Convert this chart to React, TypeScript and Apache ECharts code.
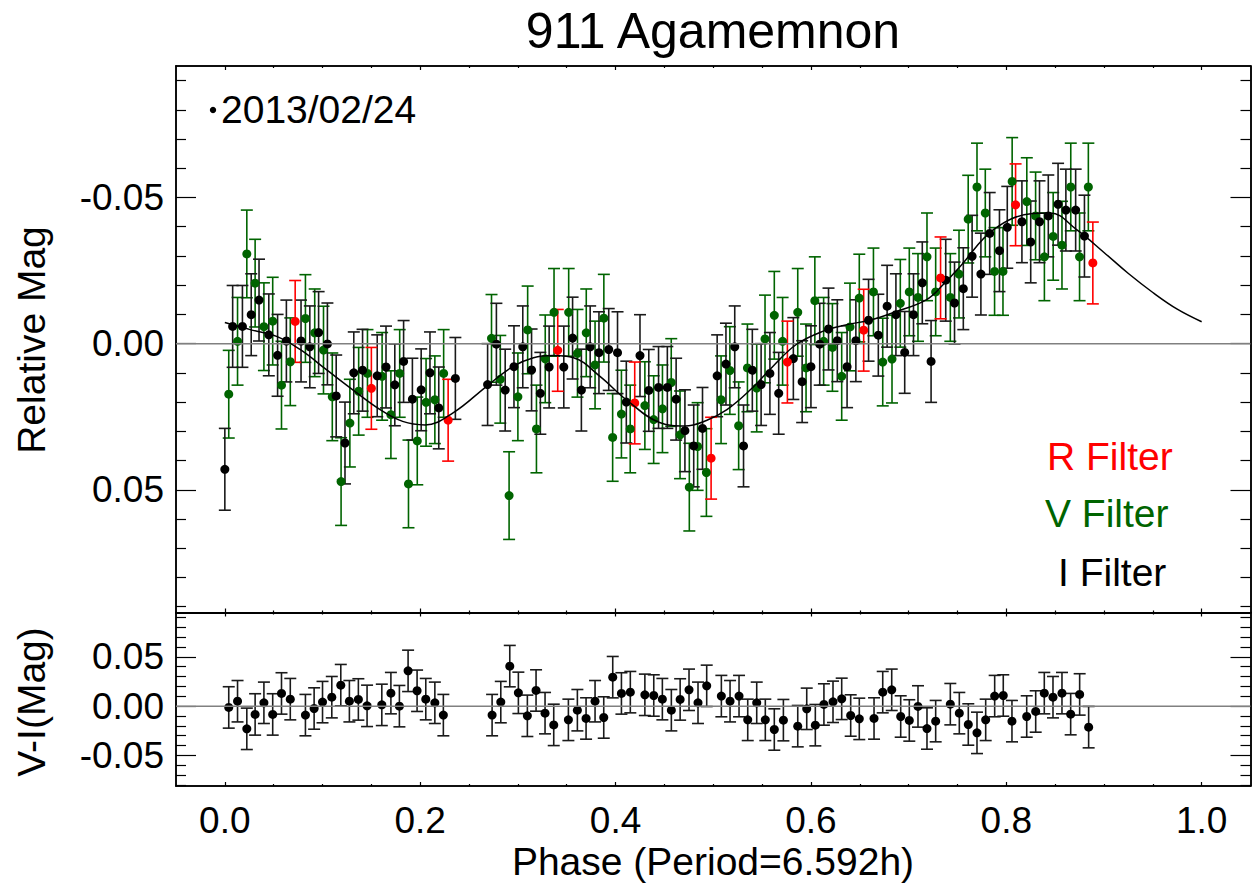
import React, { useEffect, useRef } from 'react';
import * as echarts from 'echarts';

const FONT = '"Liberation Sans", Arial, Helvetica, sans-serif';

// ---------- data ----------
const iPhase = [0.000, 0.008, 0.018, 0.027, 0.035, 0.045, 0.054, 0.063, 0.078, 0.087, 0.096, 0.105, 0.114, 0.123, 0.132, 0.141, 0.156, 0.165, 0.174, 0.183, 0.192, 0.201, 0.210, 0.219, 0.236,
  0.269, 0.278, 0.287, 0.296, 0.305, 0.314, 0.323, 0.332, 0.347, 0.356, 0.365, 0.374, 0.383, 0.393, 0.402, 0.411,
  0.425, 0.434, 0.444, 0.453, 0.462, 0.471, 0.480, 0.489, 0.504, 0.513, 0.522, 0.531, 0.540, 0.549, 0.558, 0.567,
  0.582, 0.591, 0.600, 0.609, 0.618, 0.627, 0.637, 0.646, 0.659, 0.669, 0.678, 0.687, 0.696, 0.705, 0.714, 0.723,
  0.738, 0.747, 0.756, 0.765, 0.774, 0.783, 0.793, 0.801, 0.816, 0.825, 0.834, 0.843, 0.853, 0.861, 0.871, 0.880];
const iMag = [0.0430, -0.0059, -0.0059, -0.0099, -0.0149, -0.0030, 0.0040, -0.0009, -0.0009, 0.0011, -0.0038, 0.0001, 0.0179, 0.0340, 0.0100, 0.0091, 0.0110, 0.0080, 0.0141, 0.0061, 0.0190, 0.0158, 0.0100, 0.0220, 0.0119,
  0.0140, 0.0002, 0.0159, 0.0079, 0.0011, 0.0090, 0.0170, 0.0080, 0.0080, -0.0019, 0.0159, 0.0011, 0.0031, 0.0020, 0.0031, 0.0200,
  0.0041, 0.0160, 0.0150, 0.0150, 0.0190, 0.0298, 0.0350, 0.0290, 0.0110, 0.0070, 0.0011, 0.0350, 0.0091, 0.0140, 0.0102, 0.0170,
  0.0051, 0.0130, 0.0079, 0.0002, -0.0050, -0.0010, 0.0079, -0.0010, -0.0080, -0.0029, -0.0128, -0.0099, 0.0030, -0.0099, -0.0208, 0.0061,
  -0.0217, -0.0139, -0.0188, -0.0299, -0.0238, -0.0377, -0.0318, -0.0398, -0.0417, -0.0348, -0.0417, -0.0437, -0.0477, -0.0457, -0.0457, -0.0368];

const vPhase = [0.004, 0.013, 0.0225, 0.031, 0.040, 0.049, 0.058, 0.067, 0.0825, 0.092, 0.101, 0.110, 0.119, 0.128, 0.137, 0.146, 0.161, 0.170, 0.179, 0.188, 0.197, 0.206, 0.215, 0.224,
  0.273, 0.282, 0.291, 0.300, 0.310, 0.319, 0.328, 0.337, 0.352, 0.361, 0.370, 0.379, 0.388, 0.397, 0.406, 0.415,
  0.430, 0.439, 0.448, 0.457, 0.466, 0.4755, 0.484, 0.493, 0.508, 0.517, 0.526, 0.535, 0.5445, 0.553, 0.5625, 0.571,
  0.5865, 0.595, 0.604, 0.613, 0.622, 0.6315, 0.640, 0.6495, 0.664, 0.6735, 0.683, 0.6915, 0.7007, 0.7096, 0.7188, 0.7277,
  0.7427, 0.7516, 0.761, 0.770, 0.7785, 0.788, 0.7966, 0.806, 0.821, 0.830, 0.839, 0.848, 0.857, 0.866, 0.875, 0.884];
const vMag = [0.0173, -0.0008, -0.0307, -0.0207, -0.0058, -0.0077, 0.0142, 0.0062, -0.0086, -0.0037, 0.0022, 0.0182, 0.0472, 0.0272, 0.0163, 0.0102, 0.0112, 0.0243, 0.0102, 0.0480, 0.0333, 0.0201, 0.0192, 0.0102,
  -0.0018, 0.0122, 0.0520, 0.0182, -0.0047, 0.0292, 0.0052, -0.0107, -0.0107, 0.0033, -0.0037, 0.0073, -0.0087, 0.0321, 0.0241, 0.0292,
  0.0212, 0.0260, 0.0223, 0.0133, 0.0312, 0.0491, 0.0352, 0.0441, 0.0192, 0.0092, 0.0281, 0.0083, 0.0152, -0.0016, -0.0097, -0.0008,
  -0.0107, 0.0083, -0.0147, -0.0008, 0.0013, 0.0112, -0.0057, -0.0156, -0.0177, 0.0063, 0.0053, -0.0138, -0.0177, -0.0158, -0.0297, -0.0177,
  -0.0158, -0.0238, -0.0426, -0.0536, -0.0447, -0.0247, -0.0247, -0.0555, -0.0486, -0.0437, -0.0297, -0.0367, -0.0337, -0.0536, -0.0297, -0.0536];

const rPhase = [0.072, 0.150, 0.2286, 0.3408, 0.4196, 0.4978, 0.5759, 0.654, 0.7327, 0.8095, 0.8886];
const rMag = [-0.0076, 0.0153, 0.0262, 0.0023, 0.0203, 0.0392, 0.0063, -0.0046, -0.0225, -0.0475, -0.0276];

const iErr = 0.014;
const vErr = 0.015;
const rErr = 0.014;

const fitPhase = [0.000, 0.026, 0.053, 0.077, 0.104, 0.131, 0.159, 0.182, 0.205, 0.234, 0.268, 0.295, 0.316, 0.336, 0.357, 0.384, 0.411, 0.445, 0.471, 0.493, 0.514, 0.538, 0.561, 0.585, 0.612, 0.637, 0.660, 0.684, 0.718, 0.736, 0.753, 0.787, 0.827, 0.845, 0.872, 0.900, 0.925, 0.950, 0.975, 1.000];
const fitMag = [-0.0072, -0.0048, -0.0025, 0.0020, 0.0089, 0.0158, 0.0226, 0.0266, 0.0278, 0.0236, 0.0146, 0.0078, 0.0048, 0.0041, 0.0048, 0.0112, 0.0192, 0.0270, 0.0282, 0.0263, 0.0226, 0.0158, 0.0078, 0.0003, -0.0042, -0.0065, -0.0080, -0.0106, -0.0150, -0.0204, -0.0265, -0.0390, -0.0445, -0.0447, -0.0390, -0.0312, -0.0240, -0.0175, -0.0118, -0.0075];

const viPhase = [0.004, 0.013, 0.0225, 0.031, 0.040, 0.049, 0.058, 0.067, 0.0825, 0.0914, 0.100, 0.1095, 0.1187, 0.1275, 0.1367, 0.1456, 0.1607, 0.170, 0.1787, 0.1876, 0.1968, 0.2057, 0.215, 0.2237,
  0.2736, 0.2825, 0.2917, 0.3005, 0.3097, 0.3186, 0.3278, 0.3367, 0.3517, 0.3609, 0.3698, 0.379, 0.3879, 0.3971, 0.406, 0.4151,
  0.430, 0.4391, 0.4479, 0.4571, 0.4661, 0.4752, 0.4844, 0.4933, 0.5083, 0.5172, 0.5264, 0.5353, 0.5445, 0.5533, 0.5625, 0.5718,
  0.5865, 0.5957, 0.6045, 0.6133, 0.6226, 0.6315, 0.6407, 0.6495, 0.6646, 0.6735, 0.6827, 0.6919, 0.7007, 0.7096, 0.7188, 0.7277,
  0.7427, 0.7519, 0.7611, 0.770, 0.7789, 0.7881, 0.7969, 0.8058, 0.8209, 0.8301, 0.8389, 0.8478, 0.857, 0.8659, 0.8751, 0.8843];
const viVal = [-0.0013, 0.0050, -0.0230, -0.0084, 0.0034, -0.0084, 0.0129, 0.0071, -0.0091, -0.0024, 0.0041, 0.0091, 0.0213, 0.0050, 0.0068, 0.0003, 0.0013, 0.0132, 0.0000, 0.0358, 0.0156, 0.0071, 0.0034, -0.0091,
  -0.0091, 0.0041, 0.0406, 0.0135, -0.0098, 0.0159, -0.0071, -0.0190, -0.0139, -0.0041, -0.0125, 0.0050, -0.0115, 0.0294, 0.0129, 0.0142,
  0.0115, 0.0108, 0.0071, -0.0041, 0.0068, 0.0166, 0.0034, 0.0206, 0.0102, 0.0050, 0.0102, -0.0139, 0.0034, -0.0139, -0.0237, -0.0142,
  -0.0203, -0.0027, -0.0193, 0.0017, 0.0044, 0.0074, -0.0095, -0.0129, -0.0125, 0.0142, 0.0166, -0.0105, -0.0145, -0.0003, -0.0227, -0.0152,
  0.0020, -0.0071, -0.0186, -0.0271, -0.0139, 0.0102, 0.0108, -0.0152, -0.0105, -0.0054, 0.0132, 0.0091, 0.0132, -0.0081, 0.0119, -0.0213];
const viErr = 0.021;

// ---------- ticks ----------
const xMajorTicks = [0, 0.2, 0.4, 0.6, 0.8, 1.0];
const xMinorTicks = [0.05, 0.1, 0.15, 0.25, 0.3, 0.35, 0.45, 0.5, 0.55, 0.65, 0.7, 0.75, 0.85, 0.9, 0.95];
const yTopMajor = [-0.05, 0, 0.05];
const yTopMinor = [-0.09, -0.08, -0.07, -0.06, -0.04, -0.03, -0.02, -0.01, 0.01, 0.02, 0.03, 0.04, 0.06, 0.07, 0.08, 0.09];
const yBotMajor = [-0.05, 0, 0.05];
const yBotMinor = [-0.08, -0.07, -0.06, -0.04, -0.03, -0.02, -0.01, 0.01, 0.02, 0.03, 0.04, 0.06, 0.07, 0.08, 0.09];

const X_MIN = -0.05, X_MAX = 1.05;
const YT_MIN = -0.095, YT_MAX = 0.092;
const YB_MIN = -0.081, YB_MAX = 0.095;

const AX = '#000';

function xAxis(grid: number, pos: string, ticks: number[], len: number, labels: boolean) {
  return {
    type: 'value', gridIndex: grid, position: pos, min: X_MIN, max: X_MAX,
    axisLine: { show: true, onZero: false, lineStyle: { color: AX, width: 1.5 } },
    axisTick: { show: true, inside: true, length: len, customValues: ticks, lineStyle: { color: AX, width: 1.2 } },
    axisLabel: labels
      ? { show: true, customValues: xMajorTicks, margin: 16, fontSize: 37, fontFamily: FONT, color: '#000', formatter: (v: number) => v.toFixed(1) }
      : { show: false },
    splitLine: { show: false },
  };
}

function yAxis(grid: number, pos: string, min: number, max: number, inverse: boolean, ticks: number[], len: number, labels: number[] | null) {
  return {
    type: 'value', gridIndex: grid, position: pos, min, max, inverse,
    axisLine: { show: true, onZero: false, lineStyle: { color: AX, width: 1.5 } },
    axisTick: { show: true, inside: true, length: len, customValues: ticks, lineStyle: { color: AX, width: 1.2 } },
    axisLabel: labels
      ? { show: true, customValues: labels, margin: 12, fontSize: 37, fontFamily: FONT, color: '#000', formatter: (v: number) => (Math.abs(v) < 1e-9 ? '0.00' : v.toFixed(2)) }
      : { show: false },
    splitLine: { show: false },
  };
}

function errSeries(xs: number[], ys: number[], err: number, color: string, xi: number, yi: number) {
  return {
    type: 'custom', xAxisIndex: xi, yAxisIndex: yi, silent: true,
    data: xs.map((x, i) => [x, ys[i] - err, ys[i] + err]),
    encode: { x: 0, y: [1, 2] },
    renderItem: (_p: any, api: any) => {
      const x = api.value(0);
      const a = api.coord([x, api.value(1)]);
      const b = api.coord([x, api.value(2)]);
      const hw = 6;
      const st = { stroke: color, lineWidth: 1.6 };
      return {
        type: 'group',
        children: [
          { type: 'line', shape: { x1: a[0], y1: a[1], x2: b[0], y2: b[1] }, style: st },
          { type: 'line', shape: { x1: a[0] - hw, y1: a[1], x2: a[0] + hw, y2: a[1] }, style: st },
          { type: 'line', shape: { x1: b[0] - hw, y1: b[1], x2: b[0] + hw, y2: b[1] }, style: st },
        ],
      };
    },
  };
}

function dotSeries(xs: number[], ys: number[], color: string, xi: number, yi: number) {
  return {
    type: 'scatter', xAxisIndex: xi, yAxisIndex: yi, silent: true,
    symbol: 'circle', symbolSize: 9,
    itemStyle: { color, opacity: 1 },
    data: xs.map((x, i) => [x, ys[i]]),
  };
}

const RED = '#ff0000';
const GREEN = '#006400';
const BLACK = '#000000';

export default function App() {
  const ref = useRef<HTMLDivElement>(null);
  useEffect(() => {
    if (!ref.current) return;
    const chart = echarts.init(ref.current, undefined, { renderer: 'svg' });
    const option: any = {
      animation: false,
      backgroundColor: '#fff',
      grid: [
        { left: 176, top: 66, width: 1074.5, height: 546.5, containLabel: false, outerBoundsMode: 'none' },
        { left: 176, top: 612.5, width: 1074.5, height: 173.5, containLabel: false, outerBoundsMode: 'none' },
      ],
      xAxis: [
        xAxis(0, 'bottom', xMajorTicks, 4, false),
        xAxis(0, 'bottom', xMinorTicks, 2, false),
        xAxis(0, 'top', xMajorTicks, 4, false),
        xAxis(0, 'top', xMinorTicks, 2, false),
        xAxis(1, 'bottom', xMajorTicks, 4, true),
        xAxis(1, 'bottom', xMinorTicks, 2, false),
        xAxis(1, 'top', xMajorTicks, 4, false),
        xAxis(1, 'top', xMinorTicks, 2, false),
      ],
      yAxis: [
        yAxis(0, 'left', YT_MIN, YT_MAX, true, yTopMajor, 20, yTopMajor),
        yAxis(0, 'left', YT_MIN, YT_MAX, true, yTopMinor, 10, null),
        yAxis(0, 'right', YT_MIN, YT_MAX, true, yTopMajor, 20, null),
        yAxis(0, 'right', YT_MIN, YT_MAX, true, yTopMinor, 10, null),
        yAxis(1, 'left', YB_MIN, YB_MAX, false, yBotMajor, 20, yBotMajor),
        yAxis(1, 'left', YB_MIN, YB_MAX, false, yBotMinor, 10, null),
        yAxis(1, 'right', YB_MIN, YB_MAX, false, yBotMajor, 20, null),
        yAxis(1, 'right', YB_MIN, YB_MAX, false, yBotMinor, 10, null),
      ],
      series: [
        { type: 'line', xAxisIndex: 0, yAxisIndex: 0, silent: true, symbol: 'none', data: [[X_MIN, 0], [X_MAX, 0]], lineStyle: { color: '#808080', width: 1.5 } },
        { type: 'line', xAxisIndex: 4, yAxisIndex: 4, silent: true, symbol: 'none', data: [[X_MIN, 0], [X_MAX, 0]], lineStyle: { color: '#808080', width: 1.5 } },
        errSeries(vPhase, vMag, vErr, GREEN, 0, 0),
        dotSeries(vPhase, vMag, GREEN, 0, 0),
        errSeries(iPhase, iMag, iErr, '#1a1a1a', 0, 0),
        dotSeries(iPhase, iMag, BLACK, 0, 0),
        errSeries(rPhase, rMag, rErr, RED, 0, 0),
        dotSeries(rPhase, rMag, RED, 0, 0),
        { type: 'line', xAxisIndex: 0, yAxisIndex: 0, silent: true, symbol: 'none', smooth: 0.4, data: fitPhase.map((p, i) => [p, fitMag[i]]), lineStyle: { color: '#000', width: 1.5 } },
        errSeries(viPhase, viVal, viErr, '#1a1a1a', 4, 4),
        dotSeries(viPhase, viVal, BLACK, 4, 4),
      ],
      graphic: [
        { type: 'text', x: 713, y: 31, style: { text: '911 Agamemnon', fontSize: 50, fontFamily: FONT, fill: '#000', align: 'center', verticalAlign: 'middle' } },
        { type: 'text', x: 31, y: 340, rotation: Math.PI / 2, style: { text: 'Relative Mag', fontSize: 39, fontFamily: FONT, fill: '#000', align: 'center', verticalAlign: 'middle' } },
        { type: 'text', x: 31, y: 702, rotation: Math.PI / 2, style: { text: 'V-I(Mag)', fontSize: 39, fontFamily: FONT, fill: '#000', align: 'center', verticalAlign: 'middle' } },
        { type: 'text', x: 713, y: 861, style: { text: 'Phase (Period=6.592h)', fontSize: 39, fontFamily: FONT, fill: '#000', align: 'center', verticalAlign: 'middle' } },
        { type: 'circle', shape: { cx: 213, cy: 110, r: 3.2 }, style: { fill: '#000' } },
        { type: 'text', x: 221, y: 109, style: { text: '2013/02/24', fontSize: 39, fontFamily: FONT, fill: '#000', align: 'left', verticalAlign: 'middle' } },
        { type: 'text', x: 1047, y: 456, style: { text: 'R Filter', fontSize: 39, fontFamily: FONT, fill: RED, align: 'left', verticalAlign: 'middle' } },
        { type: 'text', x: 1045, y: 513, style: { text: 'V Filter', fontSize: 39, fontFamily: FONT, fill: GREEN, align: 'left', verticalAlign: 'middle' } },
        { type: 'text', x: 1058, y: 572, style: { text: 'I Filter', fontSize: 39, fontFamily: FONT, fill: BLACK, align: 'left', verticalAlign: 'middle' } },
      ],
    };
    chart.setOption(option);
    return () => chart.dispose();
  }, []);
  return <div ref={ref} style={{ position: 'absolute', left: 0, top: 0, width: 1254, height: 890, background: '#fff' }} />;
}
